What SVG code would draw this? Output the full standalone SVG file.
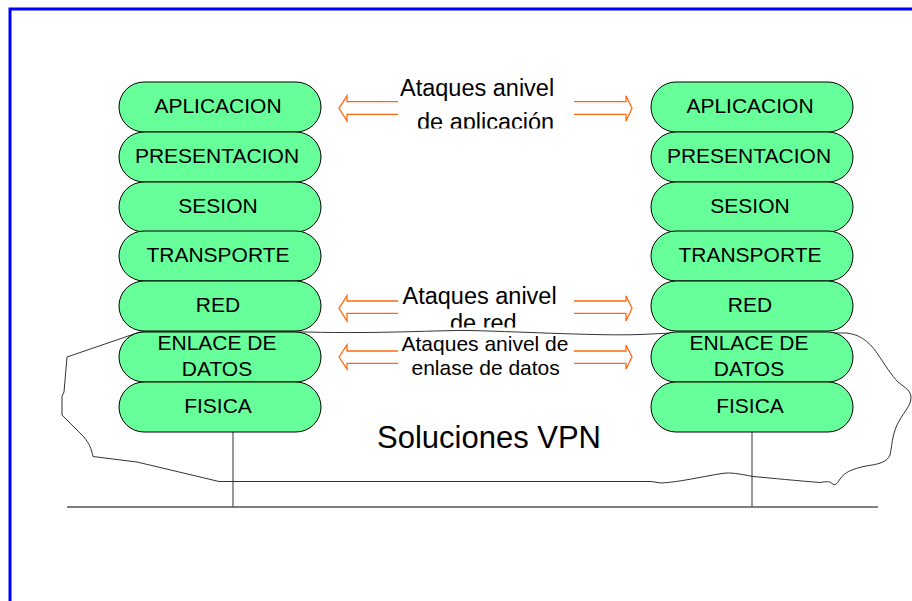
<svg xmlns="http://www.w3.org/2000/svg" width="912" height="601" viewBox="0 0 912 601">
<style>
.pill{fill:#66FF99;stroke:#000;stroke-width:1}
.pt{font-family:"Liberation Sans",Arial,sans-serif;font-size:21px;fill:#000;text-anchor:middle}
.at{font-family:"Liberation Sans",Arial,sans-serif;fill:#000}
.arr{fill:none;stroke:#FF6A10;stroke-width:1.3}
.ln{fill:none;stroke:#333;stroke-width:1}
</style>
<defs>
<clipPath id="cApl"><rect x="380" y="60" width="200" height="68.5"/></clipPath>
<clipPath id="cRed"><rect x="380" y="270" width="200" height="57.5"/></clipPath>
</defs>
<rect x="10" y="9" width="1000" height="700" fill="#fff" stroke="#0000FF" stroke-width="3"/>

<g id="cloud">
<path class="ln" d="M140,332 L307,332 C380,334 440,330 470,330.5 C530,332 600,336 640,334.5 L673,333 L846,333 C858,334 868,340 877,353 C885,365 892,376 898,382 C905,388 911,390 911,398 C911,406 902,414 897,425 C892,436 892,446 890,455 C887,462 880,464 866,466 C852,469 845,472 840,479 C837,484 835,486 832,483.5 C829,481 827,481.5 820,482.5 C800,481 770,478 753,476.5 C740,474 730,472 722,473.5 C700,477 680,482 661,483 L651,481.5 L219,481.5 L137,462 L93,456.5 C91,448 90,445 84,437 L67,420 L62,415 L62,396 L64,392 L67,357 Z"/>
</g>

<g id="connectors">
<line class="ln" x1="233" y1="432" x2="233" y2="507"/>
<line class="ln" x1="752" y1="432" x2="752" y2="507"/>
<line x1="67" y1="507" x2="878" y2="507" stroke="#555" stroke-width="1.5"/>
<polyline class="arr" points="398,101.7 347,101.7 347,95.7 339,108.3 347,121 347,114.3 398,114.3"/>
<polyline class="arr" points="574,101.7 626,101.7 626,95.7 632,108.3 626,121 626,114.3 574,114.3"/>
<polyline class="arr" points="398,301 347,301 347,295.7 339,308.3 347,321 347,313.3 398,313.3"/>
<polyline class="arr" points="574,301 626,301 626,295.7 632,308.3 626,321 626,313.3 574,313.3"/>
<polyline class="arr" points="398,351 347,351 347,345 339,357 347,369 347,363.3 398,363.3"/>
<polyline class="arr" points="574,351 626,351 626,345 632,357 626,369 626,363.3 574,363.3"/>
</g>

<g id="left-stack">
<g id="l-apl"><rect class="pill" x="119" y="82" width="202" height="50" rx="25"/><text class="pt" x="218" y="113">APLICACION</text></g>
<g id="l-pre"><rect class="pill" x="119" y="132" width="202" height="50" rx="25"/><text class="pt" x="217" y="163">PRESENTACION</text></g>
<g id="l-ses"><rect class="pill" x="119" y="182" width="202" height="50" rx="25"/><text class="pt" x="218" y="213">SESION</text></g>
<g id="l-tra"><rect class="pill" x="119" y="231" width="202" height="50" rx="25"/><text class="pt" x="218" y="262">TRANSPORTE</text></g>
<g id="l-red"><rect class="pill" x="119" y="281" width="202" height="50" rx="25"/><text class="pt" x="218" y="312">RED</text></g>
<g id="l-enl"><rect class="pill" x="119" y="332" width="202" height="50" rx="25"/><text class="pt" x="217" y="350">ENLACE DE</text><text class="pt" x="217" y="376">DATOS</text></g>
<g id="l-fis"><rect class="pill" x="119" y="382" width="202" height="50" rx="25"/><text class="pt" x="218" y="413">FISICA</text></g>
</g>

<g id="right-stack">
<g id="r-apl"><rect class="pill" x="651" y="82" width="202" height="50" rx="25"/><text class="pt" x="750" y="113">APLICACION</text></g>
<g id="r-pre"><rect class="pill" x="651" y="132" width="202" height="50" rx="25"/><text class="pt" x="749" y="163">PRESENTACION</text></g>
<g id="r-ses"><rect class="pill" x="651" y="182" width="202" height="50" rx="25"/><text class="pt" x="750" y="213">SESION</text></g>
<g id="r-tra"><rect class="pill" x="651" y="231" width="202" height="50" rx="25"/><text class="pt" x="750" y="262">TRANSPORTE</text></g>
<g id="r-red"><rect class="pill" x="651" y="281" width="202" height="50" rx="25"/><text class="pt" x="750" y="312">RED</text></g>
<g id="r-enl"><rect class="pill" x="651" y="332" width="202" height="50" rx="25"/><text class="pt" x="749" y="350">ENLACE DE</text><text class="pt" x="749" y="376">DATOS</text></g>
<g id="r-fis"><rect class="pill" x="651" y="382" width="202" height="50" rx="25"/><text class="pt" x="750" y="413">FISICA</text></g>
</g>

<g id="label-apl">
<text class="at" x="400" y="96" font-size="23.5">Ataques anivel</text>
<text class="at" x="417" y="130" font-size="23.5" clip-path="url(#cApl)">de aplicación</text>
</g>
<g id="label-red">
<text class="at" x="402.5" y="303.5" font-size="23.5">Ataques anivel</text>
<text class="at" x="450" y="331" font-size="23.5" clip-path="url(#cRed)">de red</text>
</g>
<g id="label-enl">
<text class="at" x="401.5" y="351" font-size="21">Ataques anivel de</text>
<text class="at" x="411.5" y="375" font-size="21">enlase de datos</text>
</g>
<g id="label-vpn">
<text class="at" x="377" y="447.5" font-size="31">Soluciones VPN</text>
</g>
</svg>
